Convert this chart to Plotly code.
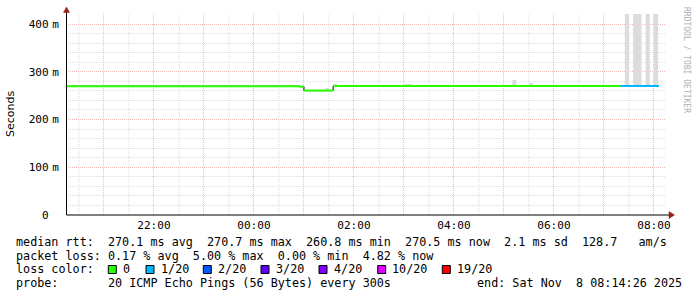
import plotly.graph_objects as go
import pandas as pd

# ---------------- data ----------------
# median RTT as steps (start time, value in seconds, loss colour index)
step_start = ["2025-11-07 20:14:26", "2025-11-08 00:55:00", "2025-11-08 01:00:00",
              "2025-11-08 01:35:00", "2025-11-08 07:20:00"]
step_end_last = "2025-11-08 08:06:00"
step_rtt = [0.2696, 0.2688, 0.2606, 0.2702, 0.2704]
step_loss = [0, 0, 0, 0, 1]

# smoke (ping spread) blocks: start, end, low, high (seconds)
smoke_start = ["2025-11-08 01:25:00", "2025-11-08 01:35:00", "2025-11-08 03:00:00",
               "2025-11-08 05:10:00", "2025-11-08 05:30:00", "2025-11-08 07:25:00",
               "2025-11-08 07:35:00", "2025-11-08 07:50:00", "2025-11-08 08:00:00"]
smoke_end = ["2025-11-08 01:30:00", "2025-11-08 01:40:00", "2025-11-08 03:10:00",
             "2025-11-08 05:15:00", "2025-11-08 05:35:00", "2025-11-08 07:30:00",
             "2025-11-08 07:45:00", "2025-11-08 07:55:00", "2025-11-08 08:05:00"]
smoke_lo = [0.2618, 0.2722, 0.2722, 0.2722, 0.2722, 0.2722, 0.2722, 0.2722, 0.2722]
smoke_hi = [0.2660, 0.2744, 0.2742, 0.2828, 0.2764, 0.5, 0.5, 0.5, 0.5]

loss_labels = ["0", "1/20", "2/20", "3/20", "4/20", "10/20", "19/20"]
loss_colors = ["#26ff00", "#00b8ff", "#0059ff", "#5e00ff", "#7e00ff", "#dd00ff", "#ff0000"]

x_start = "2025-11-07 20:14:26"
x_end = "2025-11-08 08:14:26"
hour_ticks = pd.date_range("2025-11-07 21:00", "2025-11-08 08:00", freq="1h")
half_ticks = pd.date_range("2025-11-07 20:30", "2025-11-08 08:00", freq="1h")
y_tickvals = [0, 0.1, 0.2, 0.3, 0.4]
SP = "<span style='font-size:6px'>\u00a0</span>"
y_ticktext = ["0" + SP + "\u00a0", "100" + SP + "m", "200" + SP + "m", "300" + SP + "m", "400" + SP + "m"]

stats_lines = [
    "median rtt:  270.1 ms avg  270.7 ms max  260.8 ms min  270.5 ms now  2.1 ms sd  128.7   am/s",
    "packet loss: 0.17 % avg  5.00 % max  0.00 % min  4.82 % now",
    "loss color:",
    "probe:       20 ICMP Echo Pings (56 Bytes) every 300s",
]
end_text = "end: Sat Nov  8 08:14:26 2025"

# ---------------- layout geometry (pixels) ----------------
W, H = 697, 297
L, R, T, B = 66, 666, 14, 215
MONO = "DejaVu Sans Mono"
FS = 11.75
TFS = 11.1


def px(x):
    return (x - L) / (R - L)


def py(y):
    return (B - y) / (B - T)


def nb(s):
    return s.replace(" ", "\u00a0")


MAJ = "rgb(244,185,185)"
MIN = "rgb(222,222,222)"

fig = go.Figure()

# smoke
ss = pd.to_datetime(smoke_start)
se = pd.to_datetime(smoke_end)
mid = ss + (se - ss) / 2
widths = [(b - a).total_seconds() * 1000 for a, b in zip(ss, se)]
fig.add_trace(go.Bar(x=mid, y=[h - l for h, l in zip(smoke_hi, smoke_lo)], base=smoke_lo,
                     width=widths, marker=dict(color="#dcdcdc", line=dict(width=0)),
                     hoverinfo="skip", showlegend=False))

# black step connector
st = list(pd.to_datetime(step_start)) + [pd.to_datetime(step_end_last)]
fig.add_trace(go.Scatter(x=st, y=step_rtt + [step_rtt[-1]], mode="lines",
                         line=dict(color="black", width=1, shape="hv"),
                         hoverinfo="skip", showlegend=False))

# coloured horizontal segments
for ci in sorted(set(step_loss)):
    xs, ys = [], []
    for i, v in enumerate(step_rtt):
        if step_loss[i] == ci:
            xs += [st[i], st[i + 1], None]
            ys += [v, v, None]
    fig.add_trace(go.Scatter(x=xs, y=ys, mode="lines",
                             line=dict(color=loss_colors[ci], width=2),
                             hoverinfo="skip", showlegend=False))

shapes = []
# minor vertical grid (half hours)
for t in half_ticks:
    shapes.append(dict(type="line", xref="x", yref="paper", x0=t, x1=t, y0=0, y1=1, layer="below",
                       line=dict(color=MIN, width=1, dash="1px,1px")))
# axis lines
shapes.append(dict(type="line", xref="paper", yref="paper", x0=px(66.5), x1=px(670), y0=py(215), y1=py(215),
                   line=dict(color="black", width=1)))
shapes.append(dict(type="line", xref="paper", yref="paper", x0=px(66.5), x1=px(66.5), y0=py(215), y1=py(11),
                   line=dict(color="black", width=1)))
# arrows
ac = "#9b1c1c"
shapes.append(dict(type="path", xref="paper", yref="paper",
                   path=f"M {px(63.5)} {py(12.5)} L {px(69.5)} {py(12.5)} L {px(66.5)} {py(7)} Z",
                   fillcolor=ac, line=dict(color=ac, width=0.5)))
shapes.append(dict(type="path", xref="paper", yref="paper",
                   path=f"M {px(669)} {py(211.5)} L {px(669)} {py(218.5)} L {px(674.5)} {py(215)} Z",
                   fillcolor=ac, line=dict(color=ac, width=0.5)))

annotations = []
line_y = [241.5, 255.5, 269.3, 283.3]
for s, yy in zip(stats_lines, line_y):
    annotations.append(dict(text=nb(s), xref="paper", yref="paper", x=px(15), y=py(yy),
                            xanchor="left", yanchor="middle", showarrow=False,
                            font=dict(family=MONO, size=FS, color="black"), borderpad=0))
annotations.append(dict(text=nb(end_text), xref="paper", yref="paper", x=px(476), y=py(283.3),
                        xanchor="left", yanchor="middle", showarrow=False,
                        font=dict(family=MONO, size=FS, color="black"), borderpad=0))

# loss colour legend
box_x = [108.3, 146, 203.3, 261, 319, 377.7, 442.3]
for bx, lab, col in zip(box_x, loss_labels, loss_colors):
    shapes.append(dict(type="rect", xref="paper", yref="paper", x0=px(bx), x1=px(bx + 8),
                       y0=py(273.5), y1=py(265.5), fillcolor=col, line=dict(color="black", width=1)))
    annotations.append(dict(text=lab, xref="paper", yref="paper", x=px(bx + 13.5), y=py(269.3),
                            xanchor="left", yanchor="middle", showarrow=False,
                            font=dict(family=MONO, size=FS, color="black"), borderpad=0))

# y title
annotations.append(dict(text="Seconds", xref="paper", yref="paper", x=px(11), y=py(114),
                        xanchor="center", yanchor="middle", textangle=-90, showarrow=False,
                        font=dict(family="DejaVu Sans", size=11.0, color="black")))
# watermark
annotations.append(dict(text=nb("RRDTOOL / TOBI OETIKER"), xref="paper", yref="paper", x=px(686), y=py(60),
                        xanchor="center", yanchor="middle", textangle=90, showarrow=False,
                        font=dict(family=MONO, size=8.0, color="#b0b0b0")))

fig.update_layout(
    width=W, height=H,
    margin=dict(l=L, r=W - R, t=T, b=H - B, pad=0),
    paper_bgcolor="white", plot_bgcolor="white",
    barmode="overlay", showlegend=False,
    shapes=shapes, annotations=annotations,
    xaxis=dict(type="date", range=[x_start, x_end],
               tickmode="array", tickvals=list(hour_ticks),
               ticktext=[t.strftime("%H:%M") if t.hour % 2 == 0 else "" for t in hour_ticks],
               showgrid=True, gridcolor=MAJ, griddash="1px,1px", gridwidth=1,
               zeroline=False, showline=False, ticks="",
               tickfont=dict(family=MONO, size=TFS, color="black"), ticklabelstandoff=2),
    yaxis=dict(range=[0, 0.421], tickmode="array", tickvals=y_tickvals, ticktext=y_ticktext,
               showgrid=True, gridcolor=MAJ, griddash="1px,1px", gridwidth=1,
               minor=dict(dtick=0.02, tick0=0, showgrid=True,
                          gridcolor=MIN, griddash="1px,1px", gridwidth=1),
               zeroline=False, showline=False, ticks="",
               tickfont=dict(family=MONO, size=TFS, color="black"), ticklabelstandoff=6),
)

fig.write_html("out.html")
